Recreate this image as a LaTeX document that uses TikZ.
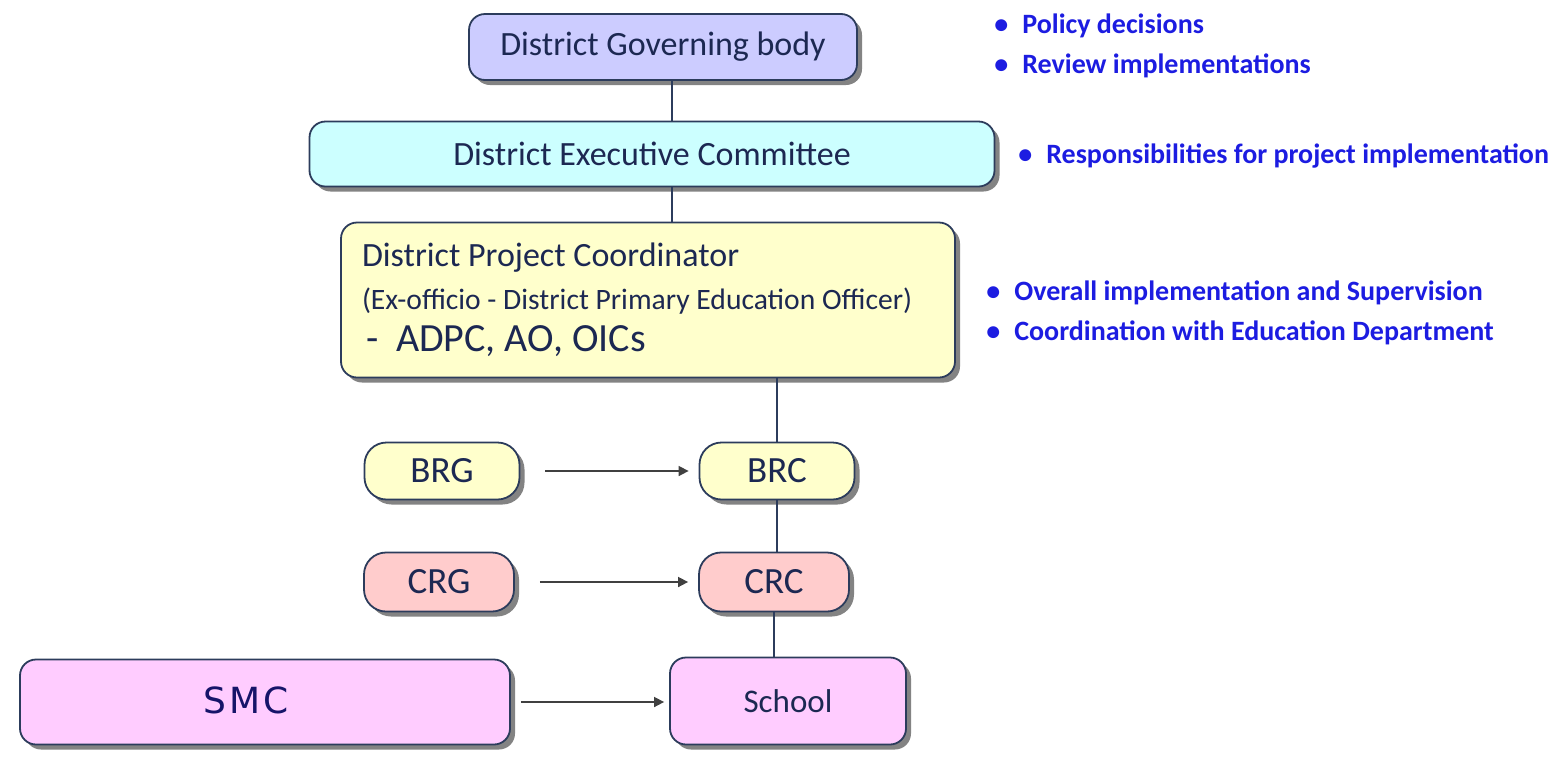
\documentclass[tikz,border=0pt]{standalone}
\usepackage{fontspec}
\setmainfont{Carlito}
\newfontfamily\smcfont[LetterSpace=8]{DejaVu Sans}
\usetikzlibrary{arrows.meta,shadows}

\definecolor{ink}{RGB}{28,40,82}
\definecolor{deepink}{RGB}{22,20,105}
\definecolor{rim}{RGB}{44,60,92}
\definecolor{notecol}{RGB}{28,28,225}
\definecolor{govfill}{RGB}{204,204,255}
\definecolor{execfill}{RGB}{204,255,255}
\definecolor{dpcfill}{RGB}{255,255,204}
\definecolor{crfill}{RGB}{255,204,204}
\definecolor{schfill}{RGB}{255,204,255}

\tikzset{
  unit/.style={draw=rim, line width=0.9pt, rounded corners=8pt, text=ink,
    inner sep=0pt, font=\fontsize{17}{20}\selectfont,
    drop shadow={shadow xshift=2.5pt, shadow yshift=-2.5pt, fill=black!65, opacity=0.75}},
  pill/.style={unit, rounded corners=11pt, font=\fontsize{18.5}{21}\selectfont},
  link/.style={draw=rim, line width=0.8pt},
  feed/.style={draw=black!75, line width=0.8pt, -{Triangle[length=5pt,width=5pt]}},
  point/.style={anchor=base west, inner sep=0pt, text=notecol,
    font=\bfseries\fontsize{14}{16}\selectfont}
}

\begin{document}
\begin{tikzpicture}[x=0.5pt,y=-0.5pt]
    \useasboundingbox (0,0) rectangle (1553,756);

    % district level
    \node[unit, fill=govfill, minimum width=194pt, minimum height=33pt]
        (gov) at (663,47) {District Governing body};
    \node[unit, fill=execfill, minimum width=342.5pt, minimum height=32.5pt]
        (exec) at (652,154) {District Executive Committee};
    \node[unit, fill=dpcfill, minimum width=307pt, minimum height=77.5pt,
          text width=286pt, align=flush left]
        (dpc) at (648,300) {District Project Coordinator\\[1.5pt]
        {\fontsize{14.8}{18}\selectfont (Ex-officio - District Primary Education Officer)}\\[1pt]
        {\fontsize{20}{22}\selectfont \hspace{2pt}-\hspace{9pt}ADPC, AO, OICs}};

    % block and cluster level
    \node[pill, fill=dpcfill, minimum width=77.5pt, minimum height=28.5pt]
        (brg) at (442,471) {BRG};
    \node[pill, fill=dpcfill, minimum width=77.5pt, minimum height=28.5pt]
        (brc) at (777,471) {BRC};
    \node[pill, fill=crfill, minimum width=75pt, minimum height=29.5pt]
        (crg) at (439,582) {CRG};
    \node[pill, fill=crfill, minimum width=75pt, minimum height=29.5pt]
        (crc) at (774,582) {CRC};

    % school level
    \node[unit, fill=schfill, minimum width=245pt, minimum height=42.5pt,
          text=deepink, font=\smcfont\fontsize{18}{20}\selectfont]
        (smc) at (265,702) {\raisebox{2pt}{SMC}\kern19pt\relax};
    \node[unit, fill=schfill, minimum width=118pt, minimum height=43.5pt,
          font=\fontsize{16.5}{19}\selectfont]
        (school) at (788,701) {School};

    % connectors
    \coordinate (trunk) at (672,0);
    \draw[link] (gov.south -| trunk) -- (exec.north -| trunk);
    \draw[link] (exec.south -| trunk) -- (dpc.north -| trunk);
    \draw[link] (dpc.south -| brc) -- (brc.north);
    \draw[link] (brc.south) -- (brc.south |- crc.north);
    \draw[link] (crc.south) -- (crc.south |- school.north);
    \draw[feed, shorten <=12.5pt, shorten >=5pt] (brg.east) -- (brc.west);
    \draw[feed, shorten <=12.5pt, shorten >=5pt] (crg.east) -- (crc.west);
    \draw[feed, shorten <=5pt, shorten >=2.5pt] (smc.east) -- (smc.east -| school.west);

    % duties
    \node[point] (n1) at (994,33) {\textbullet\hspace{7pt}Policy decisions};
    \node[point] (n2) at (994,73) {\textbullet\hspace{7pt}Review implementations};
    \node[point] (n3) at (1018,163) {\textbullet\hspace{7pt}Responsibilities for project implementation};
    \node[point] (n4) at (986,300) {\textbullet\hspace{7pt}Overall implementation and Supervision};
    \node[point] (n5) at (986,340) {\textbullet\hspace{7pt}Coordination with Education Department};
\end{tikzpicture}
\end{document}
